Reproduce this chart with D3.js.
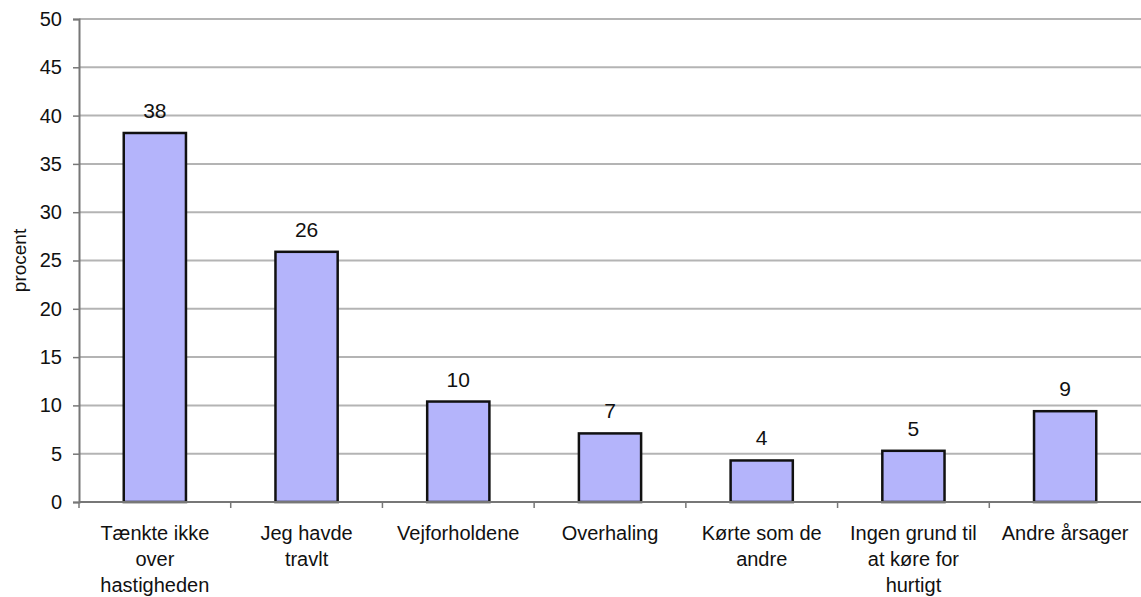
<!DOCTYPE html>
<html><head><meta charset="utf-8">
<script src="https://cdn.jsdelivr.net/npm/d3@7"></script>
<style>body{margin:0;background:#fff;} text{font-family:"Liberation Sans",Arial,sans-serif;fill:#111;}</style>
</head><body><svg id="c" width="1141" height="597"></svg>
<script>
const categories = ["Tænkte ikke\nover\nhastigheden","Jeg havde\ntravlt","Vejforholdene","Overhaling","Kørte som de\nandre","Ingen grund til\nat køre for\nhurtigt","Andre årsager"];
const values = [38.2, 25.9, 10.4, 7.1, 4.3, 5.3, 9.4];
const yTicks = [0,5,10,15,20,25,30,35,40,45,50];
const yTitle = "procent";

const svg = d3.select("#c");
const m = {l:79, r:0, t:19, b:95};
const W = 1141, H = 597;
const x = d3.scaleBand().domain(categories).range([m.l, W - m.r]).paddingInner(0.59).paddingOuter(0.295);
const xb = d3.scaleBand().domain(categories).range([m.l, W - m.r]);
const y = d3.scaleLinear().domain([0,50]).range([H - m.b, m.t]);

// gridlines
svg.append("g").selectAll("line").data(yTicks.filter(d=>d>0)).join("line")
  .attr("x1", m.l).attr("x2", W).attr("y1", d=>y(d)).attr("y2", d=>y(d))
  .attr("stroke", "#b4b4b4").attr("stroke-width", 2);

// bars
svg.append("g").selectAll("rect").data(values).join("rect")
  .attr("x", (d,i)=>x(categories[i])).attr("width", x.bandwidth())
  .attr("y", d=>y(d)).attr("height", d=>y(0)-y(d))
  .attr("fill", "#b4b4fb").attr("stroke", "#111").attr("stroke-width", 2.5);

// value labels
svg.append("g").selectAll("text").data(values).join("text")
  .attr("x", (d,i)=>x(categories[i]) + x.bandwidth()/2).attr("y", d=>y(d) - 15)
  .attr("text-anchor", "middle").attr("font-size", 21).text(d=>Math.round(d));

// y axis
const ya = svg.append("g").attr("transform", `translate(${m.l},0)`)
  .call(d3.axisLeft(y).tickValues(yTicks).tickSize(6).tickPadding(11));
ya.select(".domain").attr("stroke", "#777").attr("stroke-width", 2);
ya.selectAll(".tick line").attr("stroke", "#777").attr("stroke-width", 1.5);
ya.selectAll(".tick text").attr("font-size", 20).attr("font-family", "Liberation Sans, Arial, sans-serif").attr("fill", "#111");

// x axis
const xa = svg.append("g").attr("transform", `translate(0,${y(0)})`);
xa.append("line").attr("x1", m.l).attr("x2", W).attr("stroke", "#777").attr("stroke-width", 2);
xa.selectAll(".tk").data(categories).join("line").attr("class","tk")
  .attr("x1", d=>xb(d)).attr("x2", d=>xb(d)).attr("y1", 0).attr("y2", 6)
  .attr("stroke", "#777").attr("stroke-width", 1.5);
xa.selectAll(".lbl").data(categories).join("text").attr("class","lbl")
  .attr("x", d=>xb(d) + xb.bandwidth()/2).attr("text-anchor", "middle").attr("font-size", 20)
  .each(function(d){
    const t = d3.select(this);
    d.split("\n").forEach((s,i)=>t.append("tspan").attr("x", xb(d)+xb.bandwidth()/2).attr("y", 38 + i*26).text(s));
  });

// y title
svg.append("text").attr("transform", `translate(26,${(y(0)+y(50))/2}) rotate(-90)`)
  .attr("text-anchor", "middle").attr("font-size", 19).text(yTitle);
</script></body></html>
